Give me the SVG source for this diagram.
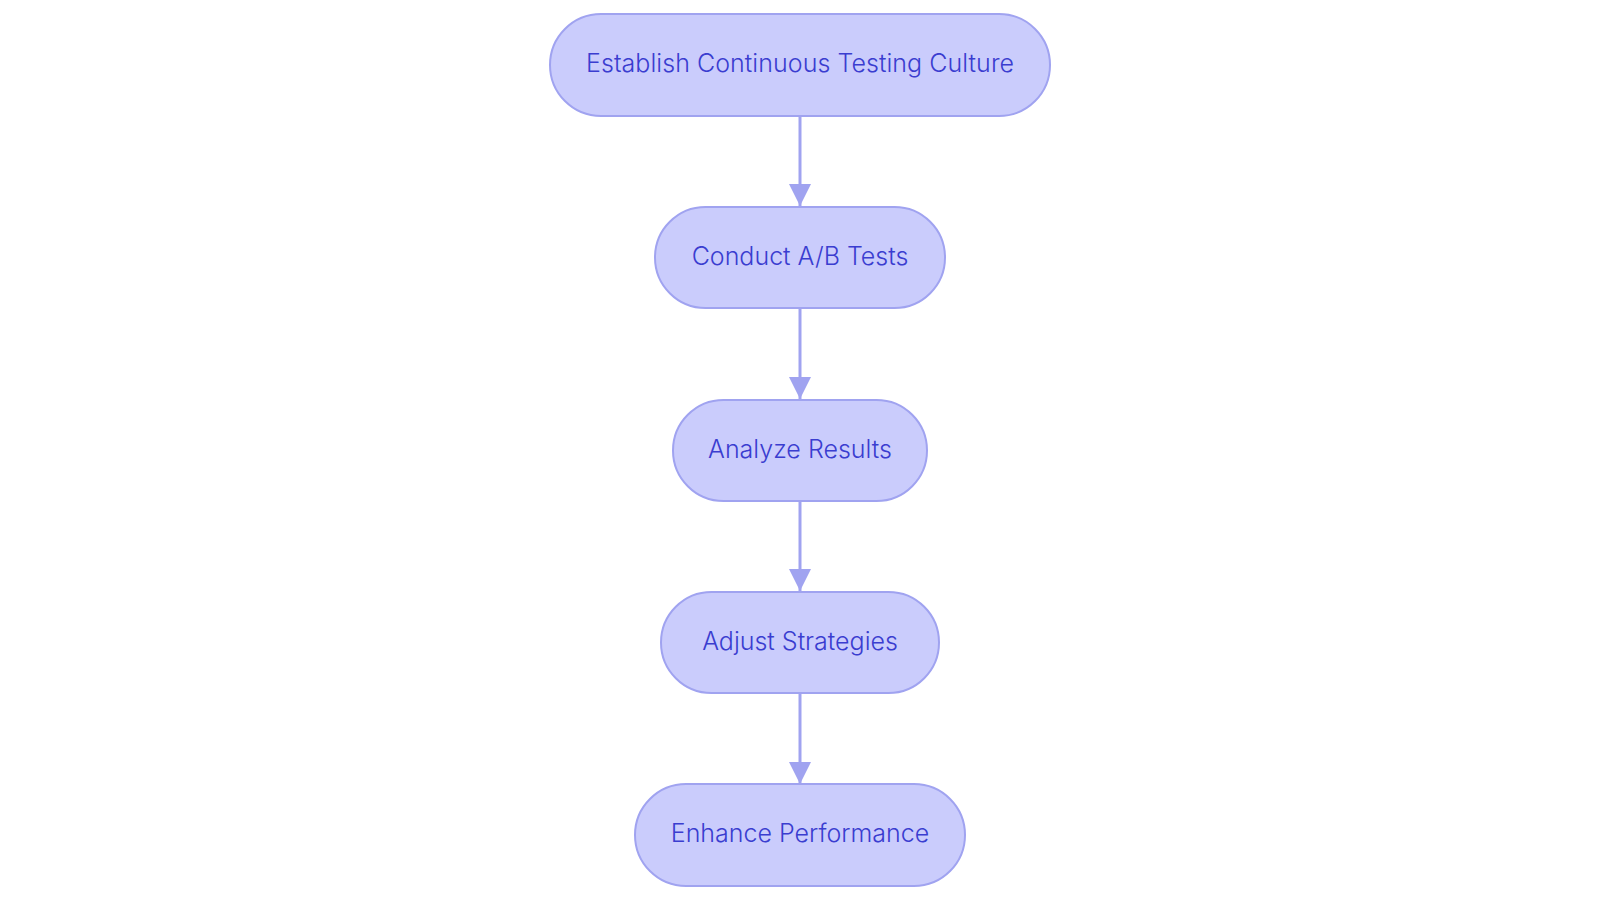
<svg xmlns="http://www.w3.org/2000/svg" width="1600" height="903" viewBox="0 0 1600 903">
<defs>
<style>
.node rect{fill:#CACCFC;stroke:#A0A3F0;stroke-width:2}
.node text{font-family:Inter,"Noto Sans","Liberation Sans",sans-serif;font-size:25px;font-weight:300;fill:#3A3DD0;text-anchor:middle;dominant-baseline:central}
.edge{stroke:#A0A3F0;stroke-width:3;fill:none;marker-end:url(#arrow)}
</style>
<marker id="arrow" viewBox="0 0 10 10" refX="10" refY="5" markerUnits="userSpaceOnUse" markerWidth="22" markerHeight="22" orient="auto">
<path d="M0,0 L10,5 L0,10 z" fill="#A0A3F0"/>
</marker>
</defs>
<rect width="1600" height="903" fill="#ffffff"/>
<g id="connectors">
<path class="edge" d="M800,116 V206"/>
<path class="edge" d="M800,308 V399"/>
<path class="edge" d="M800,501 V591"/>
<path class="edge" d="M800,693 V784"/>
</g>
<g id="n1" class="node"><rect x="550" y="14" width="500" height="102" rx="51"/><text x="800" y="63" textLength="428">Establish Continuous Testing Culture</text></g>
<g id="n2" class="node"><rect x="655" y="207" width="290" height="101" rx="50.5"/><text x="800" y="256">Conduct A/B Tests</text></g>
<g id="n3" class="node"><rect x="673" y="400" width="254" height="101" rx="50.5"/><text x="800" y="449">Analyze Results</text></g>
<g id="n4" class="node"><rect x="661" y="592" width="278" height="101" rx="50.5"/><text x="800" y="641">Adjust Strategies</text></g>
<g id="n5" class="node"><rect x="635" y="784" width="330" height="102" rx="51"/><text x="800" y="833">Enhance Performance</text></g>
</svg>
